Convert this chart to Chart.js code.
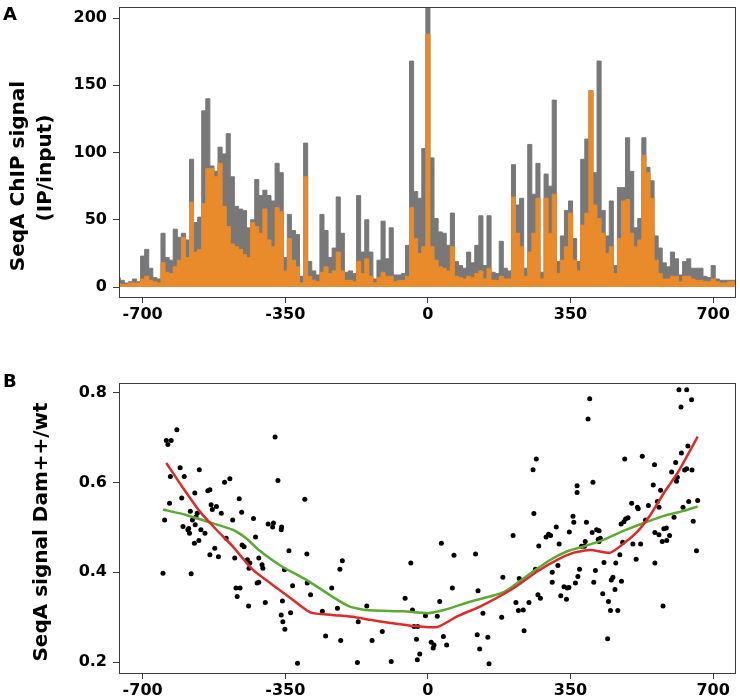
<!DOCTYPE html>
<html>
<head>
<meta charset="utf-8">
<script src="https://cdn.jsdelivr.net/npm/chart.js@4.4.1/dist/chart.umd.min.js"></script>
<style>
  body { margin: 0; background: #ffffff; }
  #page { position: relative; width: 740px; height: 700px; }
  #chipChart { position: absolute; left: 0; top: 0; }
  #damChart { position: absolute; left: 0; top: 330px; }
</style>
</head>
<body>
<div id="page">
  <canvas id="chipChart" width="740" height="330"></canvas>
  <canvas id="damChart" width="740" height="370"></canvas>
</div>
<script>
// Panel A: ChIP signal per 10 kb bin, bins start at -760 kb
const chipBinStartKb = -760;
const chipBinWidthKb = 10;
const chipSignalAll = [
  7, 5, 3, 4, 6, 4, 23, 28, 14, 7,
  6, 40, 22, 20, 43, 37, 40, 35, 95, 48,
  52, 131, 140, 90, 86, 104, 99, 114, 82, 60,
  58, 57, 44, 50, 80, 68, 72, 68, 64, 92,
  85, 22, 54, 42, 39, 8, 107, 19, 12, 9,
  54, 42, 22, 29, 67, 40, 11, 12, 10, 68,
  26, 50, 26, 6, 20, 49, 21, 44, 9, 9,
  10, 31, 168, 71, 66, 103, 208, 96, 51, 41,
  40, 31, 55, 19, 16, 14, 26, 18, 31, 53,
  16, 53, 11, 10, 34, 14, 12, 91, 61, 66,
  14, 106, 69, 92, 11, 84, 75, 139, 19, 38,
  57, 64, 36, 19, 95, 110, 146, 85, 168, 57,
  38, 64, 16, 74, 74, 111, 86, 44, 51, 111,
  89, 79, 38, 29, 18, 15, 26, 21, 9, 19,
  21, 14, 14, 14, 8, 7, 16, 6, 5, 5,
  5, 5, 6
];
const chipSignalSubset = [
  3, 2, 2, 3, 3, 3, 6, 8, 5, 4,
  3, 18, 11, 10, 15, 20, 37, 22, 63, 26,
  28, 62, 88, 88, 82, 92, 60, 45, 32, 30,
  28, 24, 22, 48, 45, 40, 58, 35, 30, 59,
  56, 12, 36, 20, 15, 3, 82, 8, 5, 4,
  11, 15, 10, 12, 26, 12, 5, 5, 4, 19,
  10, 21, 8, 3, 7, 11, 8, 8, 4, 5,
  5, 8, 59, 36, 25, 30, 188, 30, 20, 15,
  14, 12, 30, 8, 7, 6, 8, 7, 10, 12,
  6, 14, 5, 5, 8, 6, 6, 67, 40, 30,
  8, 26, 40, 66, 6, 66, 40, 69, 10, 20,
  30, 55, 20, 12, 46, 55, 146, 61, 51, 40,
  25, 30, 10, 36, 64, 65, 40, 30, 35, 98,
  85, 66, 20, 10, 6, 6, 8, 8, 4, 8,
  8, 6, 5, 5, 4, 4, 6, 4, 3, 3,
  4, 4, 4
];
const chipTicksY = [0, 50, 100, 150, 200];
const positionTicksKb = [-700, -350, 0, 350, 700];

// Panel B: Dam++/wt ratio per region
const dotPositionKb = [
  -650, -646, -642, -630, -638, -632, -634, -616, -608, -604,
  -598, -601, -589, -585, -587, -583, -578, -581, -573, -571,
  -569, -566, -572, -561, -562, -557, -547, -540, -535, -535,
  -532, -529, -523, -519, -514, -507, -499, -486, -495, -479,
  -474, -471, -461, -468, -463, -457, -456, -451, -443, -437,
  -439, -440, -428, -423, -419, -415, -415, -407, -405, -399,
  -392, -381, -379, -375, -368, -360, -359, -357, -360, -356,
  -351, -352, -341, -337, -332, -320, -302, -297, -296, -288,
  -259, -251, -236, -222, -216, -210, -214, -173, -171, -150,
  -137, -112, -90, -56, -42, -38, -34, -25, -28, -26,
  -20, -6, 8, 15, 13, 23, 29, 33, 38, 46,
  60, 64, 117, 121, 123, 127, 135, 147, 150, 181,
  184, 209, 216, 222, 234, 224, 236, 248, 258, 260,
  266, 264, 270, 276, 272, 290, 296, 301, 305, 305,
  315, 319, 322, 326, 334, 342, 346, 340, 347, 356,
  358, 362, 366, 366, 368, 372, 377, 384, 386, 389,
  393, 397, 403, 405, 407, 411, 414, 420, 418, 423,
  420, 429, 432, 441, 443, 448, 466, 450, 454, 459,
  461, 471, 474, 481, 485, 491, 475, 478, 483, 500,
  503, 511, 514, 516, 522, 526, 534, 541, 553, 556,
  557, 557, 563, 567, 567, 571, 575, 577, 579, 585,
  586, 593, 598, 604, 608, 610, 612, 616, 635, 621,
  622, 626, 630, 635, 638, 640, 647, 648, 651, 659,
  662
];
const dotRatio = [
  0.398, 0.517, 0.694, 0.694, 0.685, 0.614, 0.554, 0.718, 0.633, 0.566,
  0.614, 0.502, 0.495, 0.487, 0.498, 0.536, 0.517, 0.397, 0.465, 0.506,
  0.524, 0.532, 0.577, 0.629, 0.471, 0.495, 0.487, 0.582, 0.584, 0.439,
  0.551, 0.540, 0.454, 0.547, 0.435, 0.532, 0.601, 0.609, 0.476, 0.517,
  0.432, 0.365, 0.365, 0.346, 0.564, 0.534, 0.461, 0.457, 0.428, 0.421,
  0.409, 0.325, 0.520, 0.479, 0.376, 0.378, 0.432, 0.417, 0.409, 0.333,
  0.508, 0.501, 0.510, 0.702, 0.605, 0.495, 0.501, 0.336, 0.305, 0.290,
  0.273, 0.406, 0.448, 0.310, 0.370, 0.197, 0.563, 0.441, 0.376, 0.350,
  0.313, 0.258, 0.365, 0.320, 0.407, 0.426, 0.248, 0.199, 0.290, 0.325,
  0.248, 0.268, 0.201, 0.342, 0.421, 0.316, 0.279, 0.279, 0.251, 0.205,
  0.218, 0.303, 0.244, 0.238, 0.231, 0.302, 0.335, 0.465, 0.257, 0.238,
  0.365, 0.438, 0.441, 0.261, 0.359, 0.229, 0.309, 0.255, 0.196, 0.300,
  0.389, 0.482, 0.333, 0.315, 0.316, 0.386, 0.270, 0.333, 0.629, 0.531,
  0.653, 0.407, 0.350, 0.342, 0.459, 0.479, 0.485, 0.482, 0.400, 0.378,
  0.501, 0.415, 0.463, 0.348, 0.368, 0.365, 0.366, 0.340, 0.490, 0.525,
  0.512, 0.376, 0.593, 0.578, 0.391, 0.407, 0.458, 0.458, 0.469, 0.512,
  0.742, 0.787, 0.489, 0.601, 0.378, 0.404, 0.495, 0.493, 0.474, 0.476,
  0.469, 0.352, 0.422, 0.252, 0.335, 0.315, 0.315, 0.383, 0.389, 0.362,
  0.421, 0.439, 0.508, 0.513, 0.519, 0.522, 0.380, 0.467, 0.653, 0.554,
  0.463, 0.429, 0.545, 0.542, 0.463, 0.659, 0.517, 0.549, 0.595, 0.640,
  0.489, 0.421, 0.558, 0.545, 0.484, 0.583, 0.469, 0.325, 0.497, 0.499,
  0.471, 0.482, 0.624, 0.523, 0.645, 0.603, 0.612, 0.807, 0.807, 0.769,
  0.666, 0.545, 0.628, 0.631, 0.682, 0.558, 0.785, 0.628, 0.514, 0.448,
  0.560
];
const greenFitKb = [-650, -593, -544, -479, -446, -415, -358, -292, -235, -193, -153, -59, 0, 39, 105, 186, 252, 301, 342, 383, 432, 481, 530, 579, 628, 662];
const greenFitRatio = [0.540, 0.528, 0.514, 0.495, 0.476, 0.450, 0.413, 0.380, 0.346, 0.324, 0.316, 0.313, 0.309, 0.316, 0.335, 0.356, 0.398, 0.428, 0.447, 0.458, 0.473, 0.493, 0.510, 0.526, 0.537, 0.547];
const redFitKb = [-642, -609, -560, -519, -479, -430, -381, -332, -287, -235, -178, -141, -92, -43, 23, 72, 129, 211, 268, 317, 358, 399, 448, 481, 514, 546, 579, 612, 640, 662];
const redFitRatio = [0.644, 0.599, 0.536, 0.495, 0.458, 0.406, 0.372, 0.339, 0.310, 0.305, 0.300, 0.294, 0.287, 0.281, 0.278, 0.302, 0.324, 0.365, 0.402, 0.428, 0.444, 0.450, 0.444, 0.465, 0.491, 0.528, 0.577, 0.621, 0.666, 0.703];
const damTicksY = [0.2, 0.4, 0.6, 0.8];

const tickFont = { family: "'DejaVu Sans', sans-serif", size: 16, weight: "bold" };

// frame box, panel letter and rotated axis titles
const panelDecor = {
  id: "panelDecor",
  afterDraw(chart, args, opts) {
    const { ctx, chartArea } = chart;
    ctx.save();
    ctx.strokeStyle = "#3c3c3c";
    ctx.lineWidth = 1;
    ctx.strokeRect(chartArea.left + 0.5, chartArea.top + 0.5,
      chartArea.right - chartArea.left - 1, chartArea.bottom - chartArea.top);
    ctx.fillStyle = "#000000";
    ctx.font = "bold 18px 'DejaVu Sans', sans-serif";
    ctx.textAlign = "left";
    ctx.textBaseline = "alphabetic";
    ctx.fillText(opts.letter, 3, opts.letterY);
    ctx.font = "bold 20px 'DejaVu Sans', sans-serif";
    ctx.textAlign = "center";
    ctx.textBaseline = "middle";
    opts.titles.forEach(t => {
      ctx.save();
      ctx.translate(t.x, t.y);
      ctx.rotate(-Math.PI / 2);
      ctx.fillText(t.text, 0, 0);
      ctx.restore();
    });
    ctx.restore();
  }
};

function axisX(height) {
  return {
    type: "linear",
    min: -758,
    max: 756,
    afterBuildTicks: scale => { scale.ticks = positionTicksKb.map(v => ({ value: v })); },
    afterFit: scale => {
      scale.height = height;
      scale.paddingLeft = 0;
      scale.paddingRight = 0;
    },
    grid: { drawOnChartArea: false, drawTicks: true, tickLength: 6, color: "#3c3c3c" },
    border: { display: false },
    ticks: { color: "#000000", font: tickFont, padding: 2, maxRotation: 0, autoSkip: false }
  };
}

function axisY(min, max, tickValues) {
  return {
    type: "linear",
    min: min,
    max: max,
    afterBuildTicks: scale => { scale.ticks = tickValues.map(v => ({ value: v })); },
    afterFit: scale => {
      scale.width = 119;
      scale.paddingTop = 0;
      scale.paddingBottom = 0;
    },
    grid: { drawOnChartArea: false, drawTicks: true, tickLength: 6, color: "#3c3c3c" },
    border: { display: false },
    ticks: { color: "#000000", font: tickFont, padding: 6, autoSkip: false }
  };
}

function initChipChart() {
  const subsetPoints = chipSignalSubset.map((v, i) => ({ x: chipBinStartKb + i * chipBinWidthKb, y: v }));
  const allPoints = chipSignalAll.map((v, i) => ({ x: chipBinStartKb + i * chipBinWidthKb, y: v }));
  new Chart(document.getElementById("chipChart"), {
    type: "line",
    data: {
      datasets: [
        {
          label: "subset",
          data: subsetPoints,
          stepped: "middle",
          fill: "origin",
          borderColor: "#e98a2b",
          backgroundColor: "#e98a2b",
          borderWidth: 1,
          pointRadius: 0
        },
        {
          label: "all",
          data: allPoints,
          stepped: "middle",
          fill: "origin",
          borderColor: "#787878",
          backgroundColor: "#787878",
          borderWidth: 1,
          pointRadius: 0
        }
      ]
    },
    options: {
      responsive: false,
      animation: false,
      layout: { padding: { top: 7, right: 4, left: 0, bottom: 0 } },
      plugins: {
        legend: { display: false },
        tooltip: { enabled: false },
        panelDecor: {
          letter: "A",
          letterY: 20,
          titles: [
            { text: "SeqA ChIP signal", x: 19, y: 176 },
            { text: "(IP/input)", x: 46, y: 168 }
          ]
        }
      },
      scales: {
        x: axisX(33),
        y: axisY(-7.4, 208.2, chipTicksY)
      }
    },
    plugins: [panelDecor]
  });
}

function initDamChart() {
  const dots = dotPositionKb.map((x, i) => ({ x: x, y: dotRatio[i] }));
  const green = greenFitKb.map((x, i) => ({ x: x, y: greenFitRatio[i] }));
  const red = redFitKb.map((x, i) => ({ x: x, y: redFitRatio[i] }));
  new Chart(document.getElementById("damChart"), {
    type: "scatter",
    data: {
      datasets: [
        {
          label: "red fit",
          data: red,
          showLine: true,
          borderColor: "#dd2a2a",
          borderWidth: 2.5,
          pointRadius: 0,
          tension: 0.2
        },
        {
          label: "green fit",
          data: green,
          showLine: true,
          borderColor: "#5ea836",
          borderWidth: 2.5,
          pointRadius: 0,
          tension: 0.2
        },
        {
          label: "regions",
          data: dots,
          pointRadius: 2.5,
          pointBackgroundColor: "#000000",
          pointBorderWidth: 0
        }
      ]
    },
    options: {
      responsive: false,
      animation: false,
      layout: { padding: { top: 53, right: 4, left: 0, bottom: 0 } },
      plugins: {
        legend: { display: false },
        tooltip: { enabled: false },
        panelDecor: {
          letter: "B",
          letterY: 57,
          titles: [
            { text: "SeqA signal Dam++/wt", x: 42, y: 202 }
          ]
        }
      },
      scales: {
        x: axisX(27),
        y: axisY(0.1755, 0.8223, damTicksY)
      }
    },
    plugins: [panelDecor]
  });
}

initChipChart();
initDamChart();
</script>
</body>
</html>
